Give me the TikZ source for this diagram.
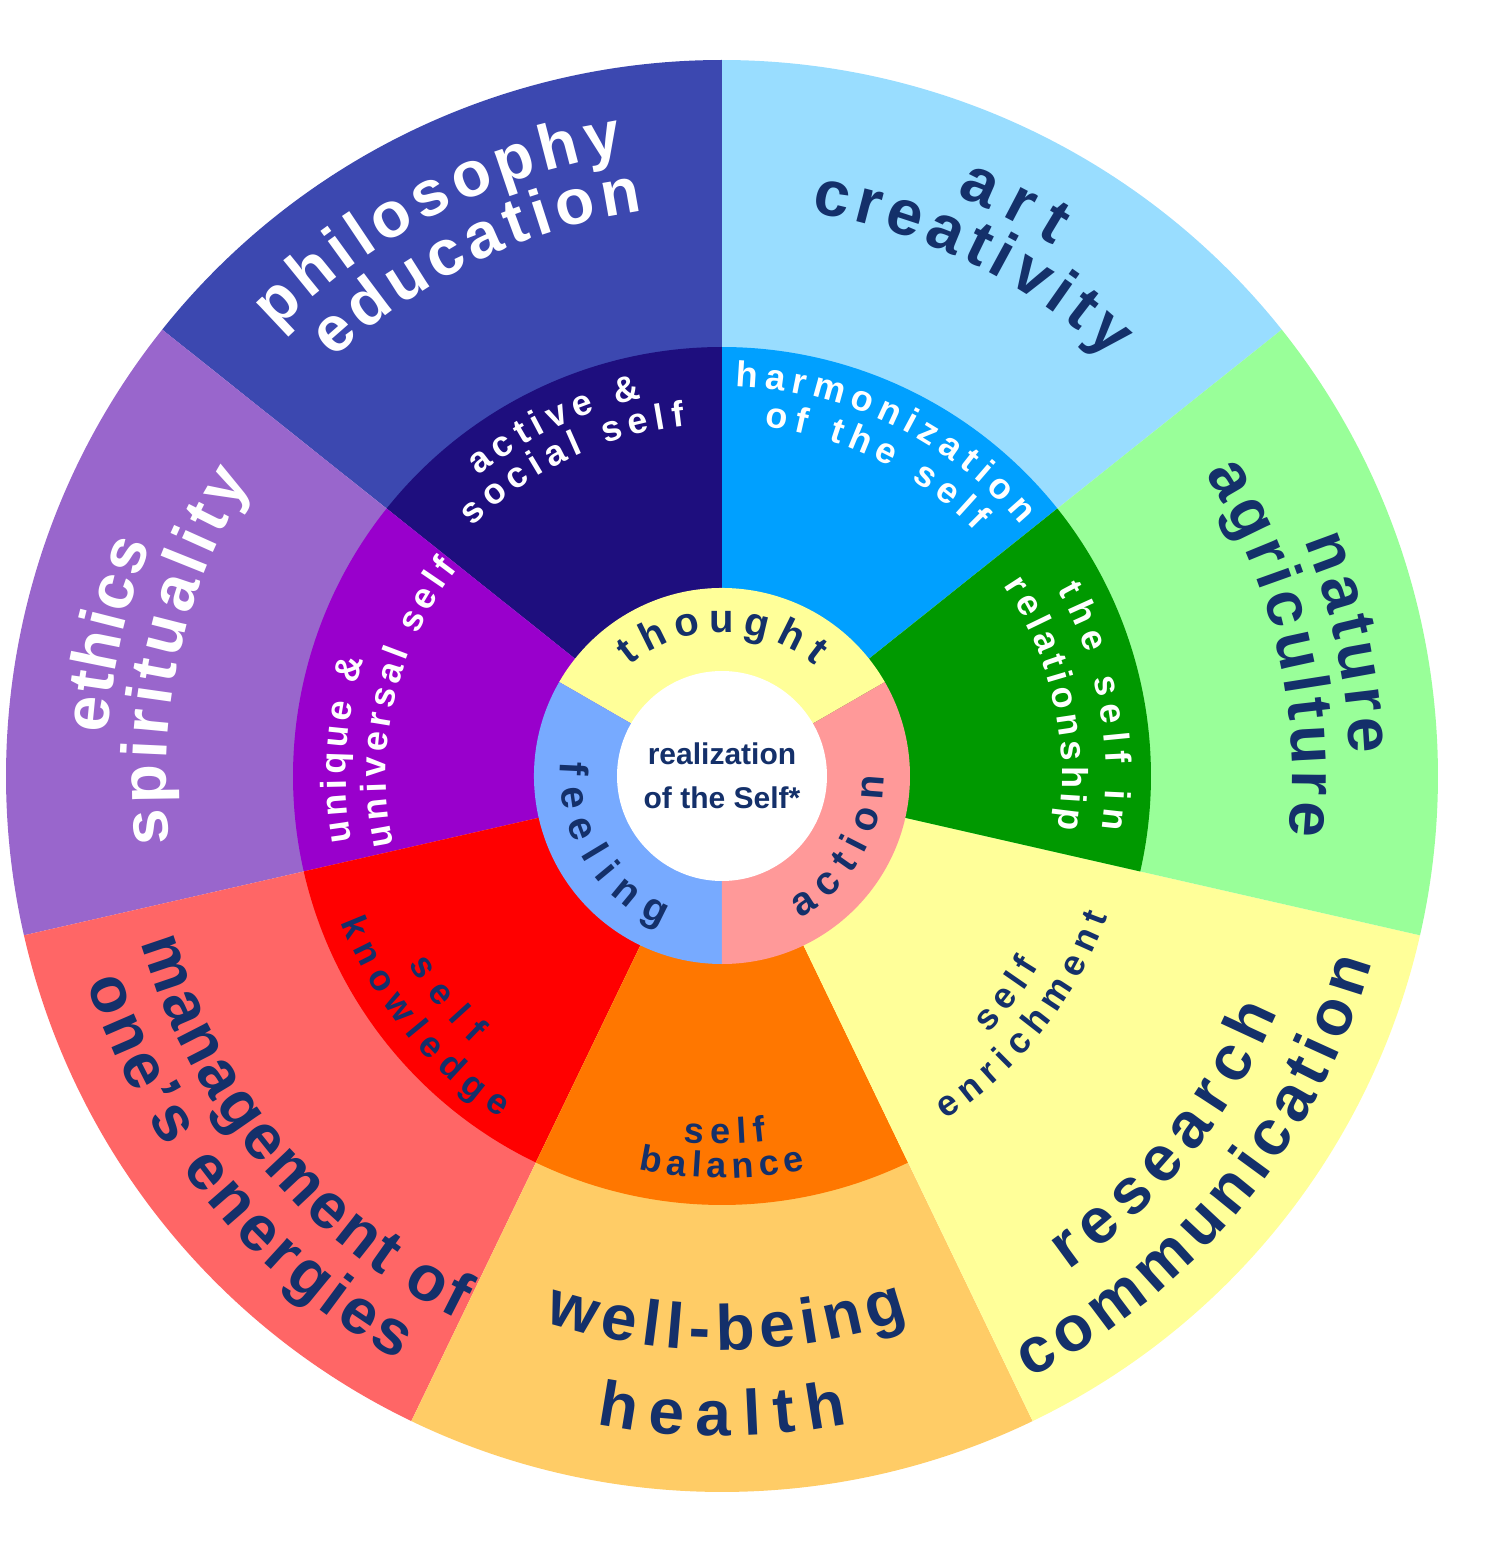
\documentclass[tikz,border=0pt]{standalone}
\usepackage{fontspec}
\setmainfont{Liberation Sans}
\usetikzlibrary{decorations.text}
\definecolor{navy}{HTML}{14306A}
\definecolor{cPhil}{HTML}{3C48B0}
\definecolor{cEthic}{HTML}{9966CC}
\definecolor{cManag}{HTML}{FF6666}
\definecolor{cWell}{HTML}{FFCC66}
\definecolor{cResea}{HTML}{FFFF99}
\definecolor{cNatur}{HTML}{99FF99}
\definecolor{cArt}{HTML}{99DDFF}
\definecolor{mActive}{HTML}{1E0E7E}
\definecolor{mUnique}{HTML}{9900CC}
\definecolor{mKnow}{HTML}{FF0000}
\definecolor{mBal}{HTML}{FF7700}
\definecolor{mEnr}{HTML}{FFFF99}
\definecolor{mRel}{HTML}{009900}
\definecolor{mHarm}{HTML}{00A0FF}
\definecolor{iThought}{HTML}{FFFF99}
\definecolor{iFeel}{HTML}{77AAFF}
\definecolor{iAct}{HTML}{FF9999}
% #1 font size, #2 colour, #3 from, #4 to, #5 radius, #6 text
\newcommand{\arclabel}[6]{%
  \path[decorate,decoration={text along path,text align=fit to path,
    text color=#2,text={|\fontsize{#1}{#1}\selectfont\bfseries|#6}}]
    (#3:#5) arc[start angle=#3,end angle=#4,radius=#5];}
\begin{document}
\begin{tikzpicture}
\useasboundingbox (-361pt,-394.5pt) rectangle (386pt,388pt);
% outer and middle rings
\foreach \a/\co/\cm [count=\i] in {38.571/cArt/mHarm, 90/cPhil/mActive, 141.429/cEthic/mUnique,
    192.857/cManag/mKnow, 244.286/cWell/mBal, 295.714/cResea/mEnr, 347.143/cNatur/mRel}{
  \fill[\co] (0,0) -- (\a:358pt) arc[start angle=\a,delta angle=51.4286,radius=358pt] -- cycle;
  \fill[\cm] (0,0) -- (\a:214.5pt) arc[start angle=\a,delta angle=51.4286,radius=214.5pt] -- cycle;
}
% inner ring
\foreach \a/\c in {30/iThought, 150/iFeel, 270/iAct}{
  \fill[\c] (0,0) -- (\a:94pt) arc[start angle=\a,delta angle=120,radius=94pt] -- cycle;
}
\fill[white] (0,0) circle[radius=52.5pt];
\node[align=center,font=\bfseries\fontsize{15}{22}\selectfont,text=navy] (centre) at (0,0) {realization\\of the Self*};

% outer labels
\arclabel{32}{white}{135}{99}{315pt}{philosophy}
\arclabel{32}{white}{133}{98}{285pt}{education}
\arclabel{32}{navy}{68}{58}{313pt}{art}
\arclabel{32}{navy}{81}{47}{285pt}{creativity}
\arclabel{32}{navy}{22}{2}{314pt}{nature}
\arclabel{32}{navy}{32}{-6}{285pt}{agriculture}
\arclabel{32}{white}{176}{158}{308pt}{ethics}
\arclabel{32}{white}{187}{148}{278pt}{spirituality}
\arclabel{32}{navy}{196}{244}{302pt}{management of}
\arclabel{32}{navy}{198}{241}{334pt}{one{\char"27}s energies}
\arclabel{32}{navy}{252}{289}{287pt}{well-being}
\arclabel{32}{navy}{259}{281}{330pt}{health}
\arclabel{32}{navy}{305}{337}{302pt}{research}
\arclabel{32}{navy}{297}{344}{338pt}{communication}
% middle labels
\arclabel{18}{white}{129}{102}{193pt}{active {\&}}
\arclabel{18}{white}{135}{96}{176pt}{social self}
\arclabel{18}{white}{88}{40}{195pt}{harmonization}
\arclabel{18}{white}{83}{44}{176pt}{of the self}
\arclabel{18}{white}{29}{-8}{192pt}{the self in}
\arclabel{18}{white}{34}{-9}{170pt}{relationship}
\arclabel{18}{white}{190}{162}{188pt}{unique {\&}}
\arclabel{18}{white}{192}{142}{168pt}{universal self}
\arclabel{18}{navy}{211}{227}{183pt}{self}
\arclabel{18}{navy}{201}{237}{204pt}{knowledge}
\arclabel{18}{navy}{264}{277}{184pt}{self}
\arclabel{18}{navy}{258}{282}{201pt}{balance}
\arclabel{18}{navy}{316}{329}{185pt}{self}
\arclabel{18}{navy}{303}{340}{205pt}{enrichment}
% inner labels
\arclabel{20}{navy}{130}{50}{72pt}{thought}
\arclabel{20}{navy}{175}{248}{81pt}{feeling}
\arclabel{20}{navy}{299}{360}{81pt}{action}
\end{tikzpicture}
\end{document}
